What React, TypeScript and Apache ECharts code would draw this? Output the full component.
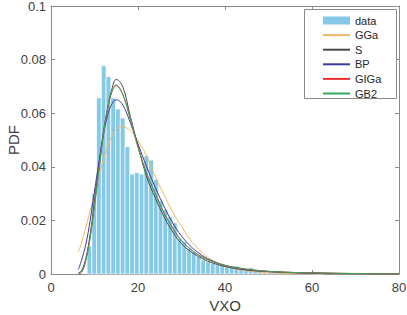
import React, { useEffect, useRef } from "react";
import * as echarts from "echarts";

// Histogram (PDF-normalised), bins of equal width starting at binStart
const binStart = 8.3;
const binWidth = 1.09;
const histValues = [
  0.0104, 0.030, 0.0658, 0.0777, 0.0736, 0.0657, 0.0616, 0.0582, 0.0475, 0.0373,
  0.0378, 0.0373, 0.0441, 0.0425, 0.0353, 0.0274, 0.0241, 0.0214, 0.0191, 0.0133,
  0.0121, 0.0096, 0.0083, 0.0065, 0.0052, 0.0046, 0.0040, 0.0034, 0.0036, 0.0026,
  0.0024, 0.0030, 0.0020, 0.0017, 0.0024, 0.0012, 0.0010, 0.0008, 0.0009, 0.0006,
  0.0005, 0.0005, 0.0004, 0.0003, 0.0003, 0.0002, 0.0002, 0.0002, 0.0001, 0.0001,
];

// Fitted densities, sampled at curveX
const curveX = [6.3, 7, 8, 9, 10, 11, 12, 13, 14, 15, 16, 17, 18, 19, 20, 22, 24, 26, 28, 30, 32, 34, 36, 40, 45, 50, 55, 60, 70, 80];
const ggaY = [0.0083, 0.0115, 0.0175, 0.0235, 0.0300, 0.0365, 0.0425, 0.0475, 0.0515, 0.0540, 0.0550, 0.0548, 0.0538, 0.0520, 0.0497, 0.0440, 0.0362, 0.0295, 0.0230, 0.0178, 0.0128, 0.0092, 0.0062, 0.0030, 0.0012, 0.0005, 0.0002, 0.0001, 0.00002, 0];
const sY = [0.0004, 0.0012, 0.0058, 0.0148, 0.0272, 0.0405, 0.0525, 0.0618, 0.0690, 0.0726, 0.0714, 0.0674, 0.0604, 0.0540, 0.0478, 0.0362, 0.0283, 0.0213, 0.0157, 0.0113, 0.0085, 0.0064, 0.0048, 0.0028, 0.0015, 0.0009, 0.0006, 0.0004, 0.0002, 0.0001];
const bpY = [0.0017, 0.0050, 0.0110, 0.0200, 0.0310, 0.0415, 0.0515, 0.0590, 0.0635, 0.0650, 0.0642, 0.0615, 0.0575, 0.0530, 0.0485, 0.0400, 0.0322, 0.0252, 0.0190, 0.0142, 0.0105, 0.0078, 0.0057, 0.0032, 0.0016, 0.0009, 0.0005, 0.0003, 0.0001, 0.00004];
const gigaY = [0, 0.0006, 0.0052, 0.0138, 0.0258, 0.0388, 0.0515, 0.0612, 0.0679, 0.0702, 0.0686, 0.0648, 0.0593, 0.0534, 0.0475, 0.0375, 0.0300, 0.0228, 0.0171, 0.0125, 0.0094, 0.0070, 0.0054, 0.0032, 0.0018, 0.0010, 0.0006, 0.0004, 0.00015, 0.00006];
const gb2Y = [0, 0.0005, 0.0050, 0.0135, 0.0255, 0.0385, 0.0515, 0.0615, 0.0683, 0.0706, 0.0688, 0.0648, 0.0592, 0.0532, 0.0472, 0.0372, 0.0298, 0.0226, 0.0170, 0.0124, 0.0094, 0.0070, 0.0054, 0.0032, 0.0018, 0.0010, 0.0006, 0.0004, 0.00015, 0.00006];

const xTicks = { min: 0, max: 80, interval: 20 };
const yTicks = { min: 0, max: 0.1, interval: 0.02 };

const FONT = "'Liberation Sans', Arial, Helvetica, sans-serif";
const AXIS_COLOR = "#8a8a8a";
const LABEL_COLOR = "#404040";
const BAR_COLOR = "#84C9E8";

const curves = [
  { name: "GGa", y: ggaY, color: "#F1B862" },
  { name: "S", y: sY, color: "#4a4a4a" },
  { name: "BP", y: bpY, color: "#3B3B9E" },
  { name: "GIGa", y: gigaY, color: "#F03030" },
  { name: "GB2", y: gb2Y, color: "#35A860" },
];

export default function App() {
  const ref = useRef<HTMLDivElement>(null);
  useEffect(() => {
    if (!ref.current) return;
    const chart = echarts.init(ref.current, null, { renderer: "svg" });
    const histData = histValues.map((v, k) => [binStart + k * binWidth, binStart + (k + 1) * binWidth, v]);
    const axisCommon = {
      axisLine: { show: true, onZero: false, lineStyle: { color: AXIS_COLOR, width: 1 } },
      axisTick: { show: true, inside: true, length: 4, lineStyle: { color: AXIS_COLOR } },
      splitLine: { show: false },
    };
    const option: any = {
      animation: false,
      grid: { left: 51, right: 8, top: 6, bottom: 41, containLabel: false, outerBoundsMode: "none" },
      xAxis: [
        {
          type: "value", ...xTicks, ...axisCommon,
          name: "VXO", nameLocation: "middle", nameGap: 24, nameMoveOverlap: false,
          nameTextStyle: { fontSize: 15, color: LABEL_COLOR, fontFamily: FONT },
          axisLabel: { fontSize: 13, color: LABEL_COLOR, fontFamily: FONT, margin: 7 },
        },
        {
          type: "value", position: "top", ...xTicks, ...axisCommon,
          axisLabel: { show: false },
        },
      ],
      yAxis: [
        {
          type: "value", ...yTicks, ...axisCommon,
          name: "PDF", nameLocation: "middle", nameGap: 30, nameMoveOverlap: false,
          nameTextStyle: { fontSize: 15, color: LABEL_COLOR, fontFamily: FONT },
          axisLabel: { fontSize: 13, color: LABEL_COLOR, fontFamily: FONT, margin: 5 },
        },
        {
          type: "value", position: "right", ...yTicks, ...axisCommon,
          axisLabel: { show: false },
        },
      ],
      legend: {
        orient: "vertical",
        left: 322,
        top: 14.5,
        padding: 0,
        itemWidth: 27,
        itemHeight: 8,
        itemGap: 2.6,
        textStyle: { fontSize: 11, lineHeight: 12, color: "#262626", fontFamily: FONT },
        data: [
          { name: "data", icon: "rect", itemStyle: { color: BAR_COLOR } },
          ...curves.map((c) => ({ name: c.name, itemStyle: { opacity: 0 } })),
        ],
      },
      graphic: [
        {
          type: "rect",
          z: 3,
          shape: { x: 304.5, y: 9.5, width: 92, height: 89 },
          style: { fill: "#ffffff", stroke: AXIS_COLOR, lineWidth: 1 },
        },
      ],
      series: [
        {
          name: "data",
          type: "custom",
          itemStyle: { color: BAR_COLOR },
          encode: { x: [0, 1], y: 2 },
          data: histData,
          renderItem: (params: any, api: any) => {
            const x0 = api.value(0);
            const x1 = api.value(1);
            const v = api.value(2);
            const p0 = api.coord([x0, v]);
            const p1 = api.coord([x1, 0]);
            return {
              type: "rect",
              shape: { x: p0[0], y: p0[1], width: p1[0] - p0[0], height: p1[1] - p0[1] },
              style: { fill: BAR_COLOR, stroke: "#ffffff", lineWidth: 0.7 },
            };
          },
        },
        ...curves.map((c) => ({
          name: c.name,
          type: "line",
          symbol: "none",
          showSymbol: false,
          smooth: 0.4,
          data: curveX.map((x, i) => [x, c.y[i]]),
          lineStyle: { color: c.color, width: 1 },
          itemStyle: { color: c.color },
        })),
      ],
    };
    chart.setOption(option);
    return () => chart.dispose();
  }, []);
  return (
    <div
      ref={ref}
      style={{ position: "fixed", left: 0, top: 0, width: 407, height: 315, background: "#fff" }}
    />
  );
}
